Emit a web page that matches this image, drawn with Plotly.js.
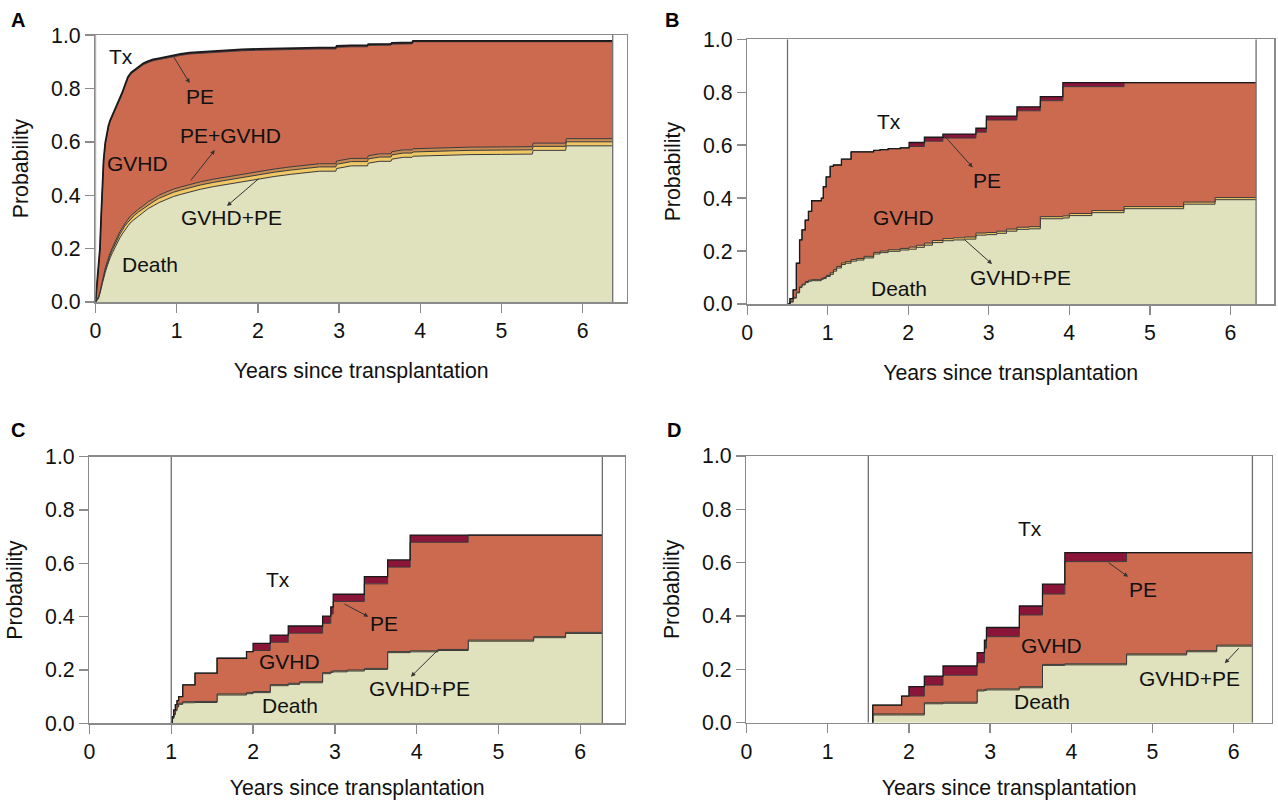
<!DOCTYPE html>
<html><head><meta charset="utf-8">
<script src="https://cdn.plot.ly/plotly-3.0.1.min.js"></script>
<style>html,body{margin:0;padding:0;background:#fff}</style>
</head><body><div id="chart" style="width:1278px;height:800px"></div>
<script>
// ---------- DATA (upper edge of each stacked band) ----------
// Panel A : all patients from transplantation
const tA = [0,0.02,0.04,0.055,0.07,0.085,0.1,0.12,0.14,0.16,0.18,0.21,0.24,0.27,0.30,0.33,0.36,0.40,0.44,0.48,0.53,0.59,0.65,0.71,0.78,0.88,0.96,1.05,1.16,1.29,1.45,1.6,1.8,2.0,2.2,2.4,2.6,2.76,2.96,2.97,3.15,3.35,3.36,3.5,3.64,3.65,3.79,3.90,3.91,4.1,4.3,4.6,5.0,5.23,5.38,5.39,5.79,5.8,6.37];
const deathA  = [0,.005,.015,.03,.05,.07,.09,.11,.13,.15,.165,.185,.205,.225,.24,.255,.27,.285,.30,.31,.322,.335,.35,.36,.372,.385,.395,.403,.413,.422,.432,.44,.45,.46,.47,.478,.485,.49,.49,.50,.51,.51,.52,.527,.527,.535,.542,.542,.546,.548,.55,.552,.553,.554,.554,.568,.568,.585,.585];
const gvhdPeA = [0,.008,.019,.035,.056,.077,.098,.119,.139,.16,.175,.196,.217,.237,.253,.268,.284,.299,.314,.325,.337,.35,.365,.375,.388,.401,.411,.419,.429,.438,.448,.456,.466,.476,.486,.494,.501,.506,.506,.516,.526,.526,.536,.543,.543,.551,.558,.558,.562,.564,.566,.568,.569,.57,.57,.583,.583,.60,.60];
const peGvhdA = [0,.010,.022,.039,.061,.082,.104,.126,.146,.168,.183,.205,.226,.247,.263,.278,.294,.31,.325,.336,.348,.361,.376,.386,.40,.413,.423,.431,.441,.45,.46,.468,.478,.488,.498,.506,.513,.518,.518,.528,.538,.538,.548,.555,.555,.563,.57,.57,.574,.576,.578,.58,.581,.582,.582,.595,.595,.612,.612];
const gvhdA   = [0,.077,.146,.195,.315,.445,.525,.59,.628,.655,.675,.695,.715,.735,.755,.78,.805,.838,.855,.865,.876,.889,.897,.904,.908,.914,.92,.924,.929,.932,.935,.938,.941,.943,.945,.946,.947,.948,.948,.954,.956,.956,.961,.962,.962,.966,.967,.967,.975,.975,.975,.975,.975,.975,.975,.975,.975,.975,.975];
const peA     = [0,.08,.15,.20,.32,.45,.53,.595,.633,.66,.68,.70,.72,.74,.76,.785,.81,.843,.86,.87,.881,.894,.902,.909,.913,.919,.925,.929,.934,.937,.94,.943,.946,.948,.95,.951,.952,.953,.953,.959,.961,.961,.966,.967,.967,.971,.972,.972,.978,.978,.978,.978,.978,.978,.978,.978,.978,.978,.978];

// Panel B : landmark 0.5 years
const tB = [0.5,0.53,0.57,0.61,0.65,0.68,0.72,0.76,0.80,0.92,0.945,0.98,1.03,1.07,1.11,1.17,1.22,1.29,1.36,1.45,1.57,1.65,1.75,1.9,2.01,2.1,2.2,2.3,2.43,2.56,2.7,2.84,2.97,3.1,3.22,3.35,3.5,3.64,3.92,4.0,4.28,4.68,5.42,5.81,6.32];
const deathB  = [0,.007,.022,.042,.062,.072,.081,.086,.088,.093,.096,.104,.112,.124,.136,.149,.154,.162,.166,.174,.189,.194,.199,.204,.207,.214,.222,.232,.239,.242,.245,.26,.262,.267,.275,.282,.284,.322,.325,.334,.345,.36,.377,.394,.394];
const gvhdPeB = [0,.01,.025,.045,.065,.075,.085,.09,.092,.097,.10,.108,.118,.13,.142,.155,.16,.168,.172,.18,.195,.20,.205,.21,.215,.222,.23,.24,.247,.25,.253,.268,.27,.275,.283,.29,.292,.33,.333,.342,.353,.368,.385,.402,.402];
const gvhdB   = [0,.02,.053,.154,.242,.28,.317,.35,.39,.40,.443,.48,.52,.525,.525,.547,.547,.575,.575,.575,.58,.583,.587,.59,.595,.595,.615,.615,.627,.627,.627,.649,.695,.695,.695,.73,.73,.768,.821,.821,.821,.836,.836,.836,.836];
const peB     = [0,.02,.053,.154,.242,.28,.317,.35,.39,.40,.443,.48,.52,.525,.525,.547,.547,.575,.575,.575,.58,.583,.587,.59,.61,.61,.63,.63,.642,.642,.642,.664,.71,.71,.71,.745,.745,.783,.836,.836,.836,.836,.836,.836,.836];

// Panel C : landmark 1 year
const tC = [1.0,1.01,1.03,1.05,1.07,1.09,1.14,1.29,1.56,1.92,2.0,2.21,2.43,2.57,2.85,2.95,2.98,3.15,3.36,3.645,3.92,4.26,4.63,5.43,5.82,6.27];
const deathC  = [0,.018,.032,.047,.061,.071,.077,.078,.106,.111,.115,.141,.146,.152,.186,.191,.193,.196,.202,.265,.268,.273,.308,.321,.337,.337];
const gvhdPeC = [0,.02,.035,.05,.065,.075,.081,.082,.11,.115,.119,.145,.15,.156,.19,.195,.197,.20,.206,.269,.272,.277,.312,.325,.341,.341];
const gvhdC   = [0,.025,.05,.07,.085,.10,.144,.188,.244,.269,.273,.304,.338,.338,.375,.41,.457,.457,.523,.586,.679,.679,.706,.706,.706,.706];
const peC     = [0,.025,.05,.07,.085,.10,.144,.188,.244,.269,.30,.331,.365,.365,.402,.437,.484,.484,.55,.613,.706,.706,.706,.706,.706,.706];

// Panel D : landmark 1.5 years
const tD = [1.555,1.555,1.91,2.0,2.19,2.42,2.84,2.93,2.955,3.36,3.645,3.92,4.68,5.42,5.79,6.23];
const deathD  = [0,.029,.029,.029,.071,.073,.119,.121,.123,.131,.215,.217,.254,.266,.287,.287];
const gvhdPeD = [0,.033,.033,.033,.075,.077,.1226,.125,.127,.135,.2186,.221,.258,.27,.291,.291];
const gvhdD   = [0,.066,.10,.10,.141,.178,.225,.279,.3225,.404,.4826,.604,.6375,.6375,.6375,.6375];
const peD     = [0,.066,.10,.135,.175,.2126,.2625,.31,.357,.4376,.52,.6375,.6375,.6375,.6375,.6375];

const landmarkStart = [0, 0.5, 1.0, 1.5];
const followUpEnd   = [6.37, 6.32, 6.27, 6.23];
const panelLetters  = ['A','B','C','D'];
const xTicks = [0,1,2,3,4,5,6];
const yTicks = [0,0.2,0.4,0.6,0.8,1.0];

// ---------- STYLE ----------
const FONT = 'Liberation Sans, Arial, Helvetica, sans-serif';
const FS = 21.3;
const C_DEATH = '#dfe2bd', C_GP = '#f1c866', C_PG = '#c68a52', C_GVHD = '#cc6a50', C_PE = '#8a1538';
const EDGE = '#3a3a3a', AXC = '#8a8a8a';

const panels = [
  {xa:'x',  ya:'y',  t:tA, shape:'linear', bands:[deathA,gvhdPeA,peGvhdA,gvhdA,peA], cols:[C_DEATH,C_GP,C_PG,C_GVHD,C_PE]},
  {xa:'x2', ya:'y2', t:tB, shape:'hv', bands:[deathB,gvhdPeB,gvhdB,peB], cols:[C_DEATH,C_GP,C_GVHD,C_PE]},
  {xa:'x3', ya:'y3', t:tC, shape:'hv', bands:[deathC,gvhdPeC,gvhdC,peC], cols:[C_DEATH,C_GP,C_GVHD,C_PE]},
  {xa:'x4', ya:'y4', t:tD, shape:'hv', bands:[deathD,gvhdPeD,gvhdD,peD], cols:[C_DEATH,C_GP,C_GVHD,C_PE]}
];

const traces = [];
panels.forEach((p, k) => {
  p.bands.forEach((b, i) => {
    const top = i === p.bands.length - 1;
    traces.push({
      type:'scatter', mode:'lines', x:p.t, y:b, xaxis:p.xa, yaxis:p.ya,
      line:{shape:p.shape, color: top ? '#1a1a1a' : EDGE, width: top ? (k === 0 ? 1.8 : 1.3) : 1},
      fill: i === 0 ? 'tozeroy' : 'tonexty', fillcolor:p.cols[i],
      hoverinfo:'skip', showlegend:false
    });
  });
});

function xax(domain, range) {
  return {domain, range, tickvals:xTicks, ticks:'outside', ticklen:9, tickcolor:AXC, tickwidth:1.4,
    showline:true, linecolor:AXC, linewidth:1.5, mirror:true, showgrid:false, zeroline:false,
    tickfont:{family:FONT, size:FS, color:'#111'}, automargin:false, fixedrange:true,
    title:{text:'Years since transplantation', font:{family:FONT, size:FS, color:'#111'}, standoff:21}};
}
function yax(domain) {
  return {domain, range:[0,1], tickvals:yTicks, tickformat:'.1f', ticks:'outside', ticklen:9, tickcolor:AXC, tickwidth:1.4,
    showline:true, linecolor:AXC, linewidth:1.5, mirror:true, showgrid:false, zeroline:false,
    tickfont:{family:FONT, size:FS, color:'#111'}, automargin:false, fixedrange:true,
    title:{text:'Probability', font:{family:FONT, size:FS, color:'#111'}, standoff:16}};
}

const layout = {
  width:1278, height:800, margin:{l:0,r:0,t:0,b:0},
  paper_bgcolor:'#fff', plot_bgcolor:'#fff', showlegend:false,
  font:{family:FONT, color:'#111'},
  xaxis: Object.assign(xax([0.0747,0.4906],[0,6.546]), {anchor:'y'}),
  yaxis: Object.assign(yax([0.6225,0.9562]), {anchor:'x'}),
  xaxis2:Object.assign(xax([0.5847,0.9969],[0,6.543]), {anchor:'y2'}),
  yaxis2:Object.assign(yax([0.62,0.9509]), {anchor:'x2'}),
  xaxis3:Object.assign(xax([0.0700,0.4890],[0,6.546]), {anchor:'y3'}),
  yaxis3:Object.assign(yax([0.0959,0.4291]), {anchor:'x3'}),
  xaxis4:Object.assign(xax([0.5841,0.9953],[0,6.471]), {anchor:'y4'}),
  yaxis4:Object.assign(yax([0.0966,0.43]), {anchor:'x4'}),
  shapes:[], annotations:[]
};

// landmark / end-of-follow-up vertical lines
panels.forEach((p, k) => {
  [landmarkStart[k], followUpEnd[k]].forEach(v => {
    layout.shapes.push({type:'line', xref:p.xa, yref:p.ya, x0:v, x1:v, y0:0, y1:1,
      line:{color:'#6f6f6f', width:1.3}});
  });
});

// panel letters
const letterPos = [[0.014,0.975],[0.526,0.975],[0.014,0.462],[0.527,0.462]];
panelLetters.forEach((L, k) => {
  layout.annotations.push({text:'<b>'+L+'</b>', xref:'paper', yref:'paper', x:letterPos[k][0], y:letterPos[k][1],
    xanchor:'center', yanchor:'middle', showarrow:false, font:{family:FONT, size:20, color:'#000'}});
});

// state labels
function lab(p, text, x, y) {
  layout.annotations.push({text, xref:p.xa, yref:p.ya, x, y, showarrow:false,
    xanchor:'center', yanchor:'middle', font:{family:FONT, size:21, color:'#111'}});
}
function arrow(p, tx, ty, hx, hy) {
  layout.annotations.push({text:'', xref:p.xa, yref:p.ya, x:hx, y:hy, axref:p.xa, ayref:p.ya, ax:tx, ay:ty,
    showarrow:true, arrowhead:2, arrowsize:0.9, arrowwidth:1, arrowcolor:'#333', standoff:0, startstandoff:0});
}
const [pA,pB,pC,pD] = panels;
lab(pA,'Tx',0.31,0.918); lab(pA,'PE',1.29,0.768); lab(pA,'PE+GVHD',1.66,0.625);
lab(pA,'GVHD',0.52,0.52); lab(pA,'GVHD+PE',1.67,0.318); lab(pA,'Death',0.67,0.142);
arrow(pA,0.95,0.925,1.16,0.82); arrow(pA,1.16,0.45,1.47,0.569); arrow(pA,2.03,0.467,1.62,0.36);

lab(pB,'Tx',1.76,0.688); lab(pB,'PE',2.98,0.468); lab(pB,'GVHD',1.94,0.325);
lab(pB,'Death',1.88,0.06); lab(pB,'GVHD+PE',3.40,0.102);
arrow(pB,2.42,0.645,2.80,0.516); arrow(pB,2.68,0.248,3.04,0.151);

lab(pC,'Tx',2.30,0.541); lab(pC,'PE',3.60,0.376); lab(pC,'GVHD',2.44,0.23);
lab(pC,'Death',2.45,0.065); lab(pC,'GVHD+PE',4.04,0.13);
arrow(pC,3.10,0.45,3.41,0.40); arrow(pC,4.27,0.278,3.93,0.175);

lab(pD,'Tx',3.49,0.73); lab(pD,'PE',4.88,0.5); lab(pD,'GVHD',3.76,0.288);
lab(pD,'Death',3.64,0.078); lab(pD,'GVHD+PE',5.46,0.164);
arrow(pD,4.44,0.604,4.70,0.547); arrow(pD,6.08,0.285,5.89,0.223);

Plotly.newPlot('chart', traces, layout, {staticPlot:true, displayModeBar:false});
</script>
</body></html>
